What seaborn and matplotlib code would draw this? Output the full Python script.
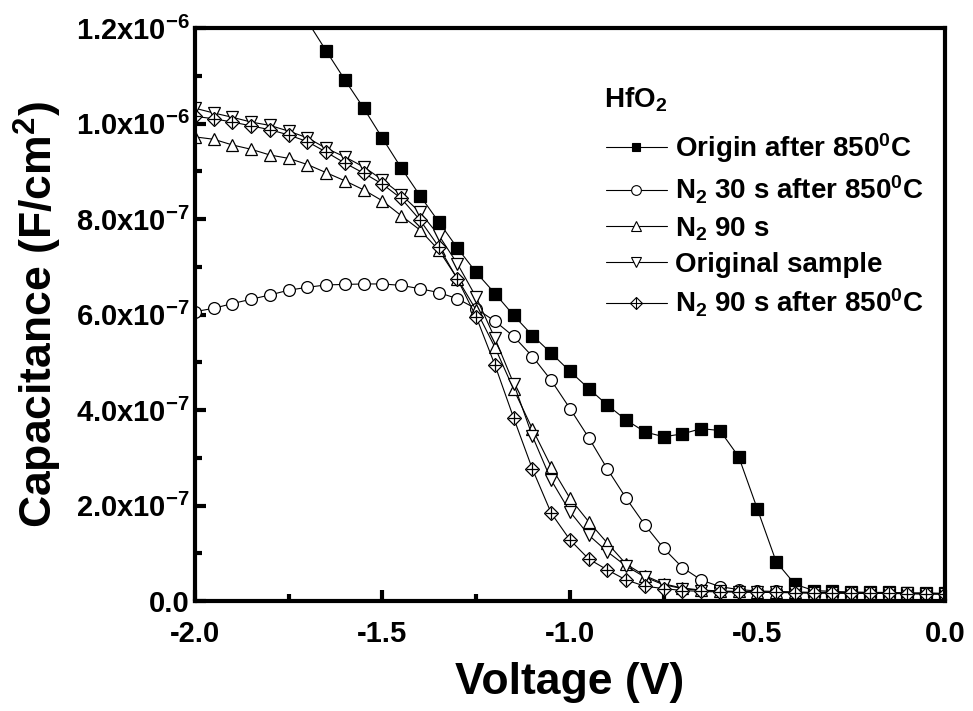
import numpy as np
import pandas as pd
import matplotlib
matplotlib.use("Agg")
import matplotlib.pyplot as plt
import seaborn as sns
from matplotlib.ticker import MultipleLocator, FuncFormatter
from matplotlib.legend_handler import HandlerTuple
from matplotlib.lines import Line2D

voltage = [-2.00, -1.95, -1.90, -1.85, -1.80, -1.75, -1.70, -1.65, -1.60, -1.55,
           -1.50, -1.45, -1.40, -1.35, -1.30, -1.25, -1.20, -1.15, -1.10, -1.05,
           -1.00, -0.95, -0.90, -0.85, -0.80, -0.75, -0.70, -0.65, -0.60, -0.55,
           -0.50, -0.45, -0.40, -0.35, -0.30, -0.25, -0.20, -0.15, -0.10, -0.05, 0.00]

# values in units of 1e-6 F/cm^2
origin_850 = [np.nan, np.nan, np.nan, np.nan, np.nan, np.nan, 1.214, 1.152, 1.091, 1.032,
              0.969, 0.907, 0.849, 0.794, 0.739, 0.688, 0.644, 0.598, 0.556, 0.519,
              0.481, 0.445, 0.410, 0.379, 0.354, 0.344, 0.350, 0.361, 0.357, 0.302,
              0.192, 0.082, 0.035, 0.022, 0.020, 0.019, 0.018, 0.018, 0.017, 0.017, 0.016]
n2_30s_850 = [0.606, 0.613, 0.623, 0.632, 0.641, 0.651, 0.657, 0.662, 0.663, 0.664,
              0.664, 0.661, 0.654, 0.646, 0.633, 0.612, 0.586, 0.554, 0.512, 0.462,
              0.403, 0.342, 0.276, 0.215, 0.159, 0.110, 0.070, 0.044, 0.030, 0.024,
              0.021, 0.020, 0.019, 0.018, 0.018, 0.017, 0.017, 0.016, 0.016, 0.016, 0.015]
n2_90s = [0.972, 0.967, 0.955, 0.946, 0.934, 0.927, 0.914, 0.897, 0.880, 0.861,
          0.838, 0.807, 0.777, 0.735, 0.675, 0.609, 0.531, 0.443, 0.360, 0.281,
          0.215, 0.166, 0.121, 0.077, 0.053, 0.036, 0.027, 0.023, 0.021, 0.020,
          0.019, 0.018, 0.018, 0.017, 0.017, 0.017, 0.016, 0.016, 0.016, 0.015, 0.015]
original = [1.032, 1.022, 1.013, 1.003, 0.996, 0.984, 0.970, 0.948, 0.930, 0.909,
            0.882, 0.851, 0.814, 0.766, 0.706, 0.636, 0.550, 0.455, 0.345, 0.253,
            0.187, 0.138, 0.103, 0.073, 0.050, 0.034, 0.026, 0.022, 0.020, 0.019,
            0.019, 0.018, 0.018, 0.017, 0.017, 0.017, 0.016, 0.016, 0.016, 0.015, 0.015]
n2_90s_850 = [1.015, 1.010, 1.003, 0.995, 0.987, 0.976, 0.962, 0.940, 0.917, 0.896,
              0.873, 0.843, 0.798, 0.742, 0.674, 0.595, 0.494, 0.383, 0.276, 0.184,
              0.128, 0.088, 0.065, 0.044, 0.031, 0.026, 0.022, 0.020, 0.019, 0.019,
              0.018, 0.018, 0.017, 0.017, 0.017, 0.016, 0.016, 0.016, 0.015, 0.015, 0.015]

legend_title = "HfO$_2$"
labels = ["Origin after 850$^0$C", "N$_2$ 30 s after 850$^0$C", "N$_2$ 90 s",
          "Original sample", "N$_2$ 90 s after 850$^0$C"]

sns.set_theme(style="ticks")
plt.rcParams["font.family"] = ["Liberation Sans", "DejaVu Sans"]
plt.rcParams["font.weight"] = "bold"
plt.rcParams["mathtext.default"] = "regular"
for k in ["text.color", "axes.labelcolor", "xtick.color", "ytick.color", "axes.edgecolor"]:
    plt.rcParams[k] = "black"

fig = plt.figure(figsize=(9.73, 7.11), dpi=100)
ax = fig.add_axes([0.2004, 0.1547, 0.9712 - 0.2004, 0.9606 - 0.1547])

x = np.array(voltage)
lw = 0.8

def draw(y, marker, fc, ms_):
    df = pd.DataFrame({"V": x, "C": np.array(y) * 1e-6})
    sns.lineplot(data=df, x="V", y="C", ax=ax, color="black", linewidth=lw,
                 marker=marker, markersize=ms_, markerfacecolor=fc,
                 markeredgecolor="black", markeredgewidth=0.9, sort=False,
                 estimator=None, legend=False)

draw(origin_850, "s", "black", 8)
draw(n2_30s_850, "o", "white", 8.5)
draw(n2_90s, "^", "white", 9)
draw(original, "v", "white", 9)
draw(n2_90s_850, "D", "white", 7)
# cross inside diamonds
df_d = pd.DataFrame({"V": x, "C": np.array(n2_90s_850) * 1e-6})
sns.scatterplot(data=df_d, x="V", y="C", ax=ax, marker="+", s=70, color="black",
                linewidth=0.9, legend=False, zorder=5)

ax.set_xlim(-2.0, 0.0)
ax.set_ylim(0, 1.2e-6)
ax.xaxis.set_major_locator(MultipleLocator(0.5))
ax.xaxis.set_minor_locator(MultipleLocator(0.25))
ax.yaxis.set_major_locator(MultipleLocator(0.2e-6))
ax.yaxis.set_minor_locator(MultipleLocator(0.1e-6))

def yfmt(v, pos):
    if abs(v) < 1e-12:
        return "0.0"
    e = int(np.floor(np.log10(abs(v)) + 1e-9))
    m = v / 10 ** e
    return "%.1fx10$^{%d}$" % (m, e)

ax.yaxis.set_major_formatter(FuncFormatter(yfmt))
ax.xaxis.set_major_formatter(FuncFormatter(lambda v, p: "%.1f" % v))

for s in ax.spines.values():
    s.set_linewidth(3)
    s.set_color("black")
ax.tick_params(axis="both", which="major", direction="in", length=8, width=3,
               labelsize=21, top=False, right=False)
ax.tick_params(axis="x", which="major", pad=14)
ax.tick_params(axis="y", which="major", pad=4)
ax.tick_params(axis="both", which="minor", direction="in", length=5, width=3,
               top=False, right=False)
for lab in ax.get_xticklabels() + ax.get_yticklabels():
    lab.set_fontweight("bold")

ax.set_xlabel("Voltage (V)", fontsize=32, fontweight="bold", labelpad=10)
ax.set_ylabel("Capacitance (F/cm$^2$)", fontsize=32, fontweight="bold", labelpad=8)

# legend
def mk(marker, fc, ms_):
    return Line2D([], [], color="black", linewidth=lw, marker=marker, markersize=ms_,
                  markerfacecolor=fc, markeredgecolor="black", markeredgewidth=0.8)

h_sq = mk("s", "black", 6)
h_ci = mk("o", "white", 7)
h_up = mk("^", "white", 7)
h_dn = mk("v", "white", 7)
h_di = mk("D", "white", 6)
h_pl = Line2D([], [], color="none", linestyle="none", marker="+", markersize=8,
              markeredgecolor="black", markeredgewidth=0.8)

ax.text(0.545, 0.874, legend_title, transform=ax.transAxes, fontsize=20,
        fontweight="bold", ha="left", va="center")
leg = ax.legend([h_sq, h_ci, h_up, h_dn, (h_di, h_pl)], labels,
                handler_map={tuple: HandlerTuple(ndivide=1, pad=0)},
                loc="upper left", bbox_to_anchor=(0.529, 0.845),
                frameon=False, fontsize=20, handlelength=2.2,
                handletextpad=0.3, labelspacing=0.33, borderpad=0)
for t in leg.get_texts():
    t.set_fontweight("bold")

fig.savefig("out.png", dpi=100)
